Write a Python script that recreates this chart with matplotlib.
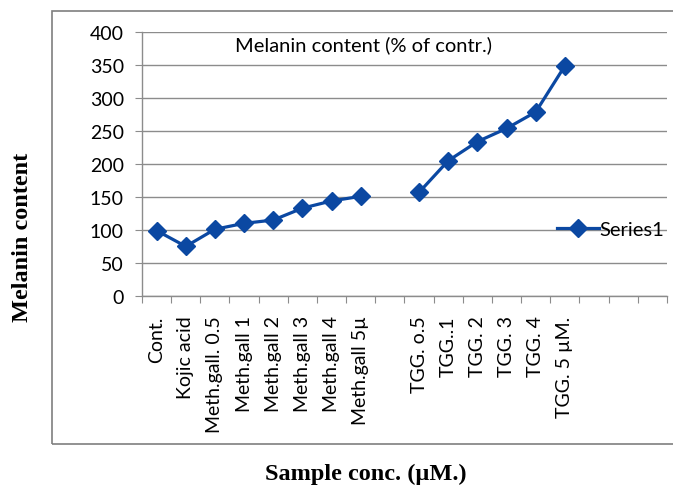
import numpy as np
import matplotlib
matplotlib.use("Agg")
import matplotlib.pyplot as plt
from matplotlib.patches import Rectangle

# categories (blank slots are kept as in the original sheet)
samples = ["Cont.", "Kojic acid", "Meth.gall. 0.5", "Meth.gall 1", "Meth.gall 2",
           "Meth.gall 3", "Meth.gall 4", "Meth.gall 5\u00b5", "",
           "TGG. o.5", "TGG..1", "TGG. 2", "TGG. 3", "TGG. 4", "TGG. 5 \u00b5M.",
           "", "", ""]
melanin = [99, 75, 101, 110, 115, 133, 144, 151, np.nan,
           157, 205, 234, 254, 279, 349,
           np.nan, np.nan, np.nan]

yticks = [0, 50, 100, 150, 200, 250, 300, 350, 400]

plt.rcParams['font.family'] = ['Lato', 'DejaVu Sans']

fig = plt.figure(figsize=(6.73, 4.89), dpi=100)
ax = fig.add_axes([0.211, 0.393, 0.780, 0.539])

# outer chart border
fig.patches.append(Rectangle((0.077, 0.09), 1.0, 0.886, transform=fig.transFigure,
                             fill=False, edgecolor='#7f7f7f', linewidth=1.2))

x = np.arange(len(samples))
ax.plot(x, melanin, color='#0B48A2', linewidth=2.3, marker='D', markersize=9,
        label='Series1')

ax.set_xlim(-0.5, len(samples) - 0.5)
ax.set_ylim(0, 400)
ax.set_yticks(yticks)
ax.grid(axis='y', color='#8c8c8c', linewidth=1.0)
ax.set_axisbelow(True)

ax.set_xticks(np.arange(len(samples) + 1) - 0.5)
ax.set_xticklabels([])
ax.set_xticks(x, minor=True)
ax.set_xticklabels(samples, minor=True, rotation=90, fontsize=14)
ax.tick_params(axis='x', which='minor', length=0, pad=14)
ax.tick_params(axis='x', which='major', length=5, color='#8c8c8c')
ax.tick_params(axis='y', length=5, color='#8c8c8c', labelsize=14, pad=8)

for s in ['top', 'right']:
    ax.spines[s].set_visible(False)
for s in ['left', 'bottom']:
    ax.spines[s].set_color('#8c8c8c')
    ax.spines[s].set_linewidth(1.0)

ax.text(0.178, 0.955, "Melanin content (% of contr.)", transform=ax.transAxes,
        fontsize=14.5, va='center', ha='left')

ax.legend(loc='center right', bbox_to_anchor=(1.01, 0.25), frameon=False,
          fontsize=14.5, handlelength=2.1, handletextpad=0.0, borderaxespad=0)

fig.text(0.033, 0.515, "Melanin content", rotation=90, ha='center', va='center',
         family='Liberation Serif', fontweight='bold', fontsize=17.5)
fig.text(0.543, 0.029, "Sample conc. (\u00b5M.)", ha='center', va='center',
         family='Liberation Serif', fontweight='bold', fontsize=17.5)

fig.savefig("out.png", dpi=100)
